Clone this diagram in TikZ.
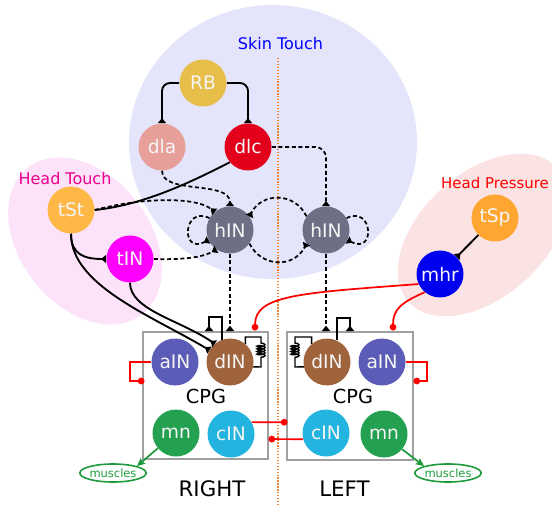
\documentclass[tikz,border=0pt]{standalone}
\usepackage{fontspec}
\setmainfont{DejaVu Sans}
\usetikzlibrary{arrows.meta,decorations.pathmorphing,shapes.geometric}
\definecolor{skinbg}{HTML}{E4E4FA}
\definecolor{touchbg}{HTML}{FCE3F9}
\definecolor{pressbg}{HTML}{FCE3E3}
\definecolor{cRB}{HTML}{E8BE4A}
\definecolor{cdla}{HTML}{E79F9A}
\definecolor{cdlc}{HTML}{E2001A}
\definecolor{ctSt}{HTML}{FFB846}
\definecolor{ctIN}{HTML}{FF00FF}
\definecolor{chIN}{HTML}{6E6E85}
\definecolor{ctSp}{HTML}{FFA531}
\definecolor{cmhr}{HTML}{0000F0}
\definecolor{caIN}{HTML}{5B5BB8}
\definecolor{cdIN}{HTML}{A0643C}
\definecolor{cmn}{HTML}{23A050}
\definecolor{ccIN}{HTML}{23B4E0}
\definecolor{cgreen}{HTML}{1E9A3C}
\definecolor{corange}{HTML}{EE8435}
\definecolor{cbox}{HTML}{A0A0A0}
\begin{document}
\begin{tikzpicture}[x=0.75pt,y=-0.75pt,
  neuron/.style={circle, minimum size=35.25pt, inner sep=0pt, text=white!96!black,
    font=\fontsize{14}{16}\selectfont},
  lbl/.style={inner sep=0pt, font=\fontsize{12}{14}\selectfont},
  big/.style={inner sep=0pt, font=\fontsize{14.5}{17}\selectfont},
  side/.style={inner sep=0pt, font=\fontsize{16}{19}\selectfont},
  inh/.style={line width=1.4pt, -{Triangle[reversed,length=4pt,width=6pt]}},
  dinh/.style={line width=1.3pt, dash pattern=on 3pt off 2pt, -{Triangle[reversed,length=4pt,width=6pt]}},
  sol/.style={line width=1.4pt},
  spr/.style={line width=1.1pt},
  redc/.style={red, line width=1.3pt, -{Circle[length=5pt]}},
  grn/.style={cgreen, line width=1.3pt, -{Stealth[length=6pt,width=5.5pt,inset=1pt]}},
  musc/.style={ellipse, draw=cgreen, line width=1.2pt, text=cgreen, inner sep=0pt,
    minimum width=44pt, minimum height=13.5pt, font=\fontsize{8.6}{10}\selectfont},
  cpgbox/.style={draw=cbox, line width=1.1pt},
  coilspr/.style={decoration={coil, aspect=0.3, amplitude=3pt, segment length=2pt}}
]
\useasboundingbox (0,0) rectangle (552,505);
% backgrounds
\fill[skinbg] (273,142) ellipse [x radius=144, y radius=137];
\fill[touchbg, rotate around={-52:(85,241)}] (85,241) ellipse [x radius=93, y radius=65];
\fill[pressbg, rotate around={42:(483,235)}] (483,235) ellipse [x radius=100, y radius=62];
\draw[corange, line width=1pt, dash pattern=on 1pt off 1.2pt] (278,58) -- (278,505);
\draw[cpgbox] (143,332) rectangle (268,459);
\draw[cpgbox] (287,332) rectangle (413,460);
% labels
\node[lbl, text=blue] (skinlbl) at (280.5,44) {Skin Touch};
\node[lbl, text=magenta] (htlbl) at (65,179) {Head Touch};
\node[lbl, text=red, font=\fontsize{11.2}{13}\selectfont] (hplbl) at (495,183) {Head Pressure};
\node[big] (cpgR) at (206,396) {CPG};
\node[big] (cpgL) at (353,396) {CPG};
\node[side] (rightlbl) at (212,489) {RIGHT};
\node[side] (leftlbl) at (344.5,489) {LEFT};
% neurons
\node[neuron, fill=cRB] (RB) at (203,83) {RB};
\node[neuron, fill=cdla] (dla) at (162,147) {dla};
\node[neuron, fill=cdlc] (dlc) at (248,147) {dlc};
\node[neuron, fill=ctSt] (tSt) at (71,210) {tSt};
\node[neuron, fill=ctIN] (tIN) at (130,259) {tIN};
\node[neuron, fill=chIN] (hINL) at (230,230) {hIN};
\node[neuron, fill=chIN] (hINR) at (326,230) {hIN};
\node[neuron, fill=ctSp] (tSp) at (495,218) {tSp};
\node[neuron, fill=cmhr] (mhr) at (440,274) {mhr};
\node[neuron, fill=caIN] (aINR) at (175,362) {aIN};
\node[neuron, fill=cdIN] (dINR) at (230,362) {dIN};
\node[neuron, fill=cmn] (mnR) at (176,433) {mn};
\node[neuron, fill=ccIN] (cINR) at (231,434) {cIN};
\node[neuron, fill=cdIN] (dINL) at (327,362) {dIN};
\node[neuron, fill=caIN] (aINL) at (382,362) {aIN};
\node[neuron, fill=ccIN] (cINL) at (326,433) {cIN};
\node[neuron, fill=cmn] (mnL) at (384,434) {mn};
\node[musc] (musR) at (113,473) {muscles};
\node[musc] (musL) at (448,473) {muscles};
% free ends
\coordinate (eR) at (230,331);
\coordinate (eL) at (326,331);
\coordinate (sR) at (209,331);
\coordinate (sL) at (350,331);
\coordinate (aRd) at (144.5,381);
\coordinate (aLd) at (413.5,381);
\coordinate (cRd) at (287.5,422.25);
\coordinate (cLd) at (268.5,439.1);
\coordinate (mRd) at (255,330.5);
\coordinate (mLd) at (393,330.5);
% skin touch circuit
\draw[inh, rounded corners=6pt] (RB.west) -| (dla.north);
\draw[inh, rounded corners=6pt] (RB.east) -| (dlc.north);
\draw[dinh] (dla.south) .. controls (162,195) and (230,180) .. (hINL.north);
\draw[dinh, rounded corners=8pt] (dlc.east) -| (hINR.north);
\draw[dinh] (hINL.150) .. controls (183,205) and (180,255) .. (hINL.205);
\draw[dinh] (hINR.30) .. controls (373,205) and (376,255) .. (hINR.335);
\draw[dinh] (hINR.145) .. controls (295,192) and (262,192) .. (hINL.35);
\draw[dinh] (hINL.325) .. controls (262,268) and (294,268) .. (hINR.215);
\draw[dinh] (hINL.south) -- (eR);
\draw[dinh] (hINR.south) -- (eL);
% head touch
\draw[sol] (tSt.east) .. controls (145,205) and (195,180) .. (dlc.220);
\draw[dinh] (tSt.east) .. controls (140,198) and (195,196) .. (hINL.130);
\draw[dinh] (tIN.east) .. controls (190,260) and (205,256) .. (hINL.235);
\draw[inh] (tSt.south) .. controls (71,255) and (85,259) .. (tIN.west);
\draw[inh] (tSt.south) .. controls (71,285) and (150,315) .. (dINR.150);
\draw[inh] (tIN.south) .. controls (130,310) and (180,320) .. (dINR.130);
% head pressure
\draw[inh] (tSp) -- (mhr);
\draw[redc] (mhr.205) .. controls (300,293) and (255,295) .. (mRd);
\draw[redc] (mhr.230) .. controls (400,303) and (393,310) .. (mLd);
% CPG internals
\draw[inh] (dINR.110) -- ++(0,-23) -| (sR);
\draw[inh] (dINL.65) -- ++(0,-22.7) -| (sL);
\draw[spr] (dINR.50) |- (261,337) -- (261,343) decorate[coilspr]{-- (261,359)} -- (261,367) -- (dINR.-12);
\draw[spr] (dINL.130) |- (295,337) -- (295,343) decorate[coilspr]{-- (295,359)} -- (295,367) -- (dINL.192);
\draw[redc] (aINR.west) -| (130,381) -- (aRd);
\draw[redc] (aINL.east) -| (427,381) -- (aLd);
\draw[redc] (cINR.30) -- (cRd);
\draw[redc] (cINL.195) -- (cLd);
\draw[grn] (mnR.220) -- (musR.north east);
\draw[grn] (mnL.320) -- (musL.north west);
\end{tikzpicture}
\end{document}
